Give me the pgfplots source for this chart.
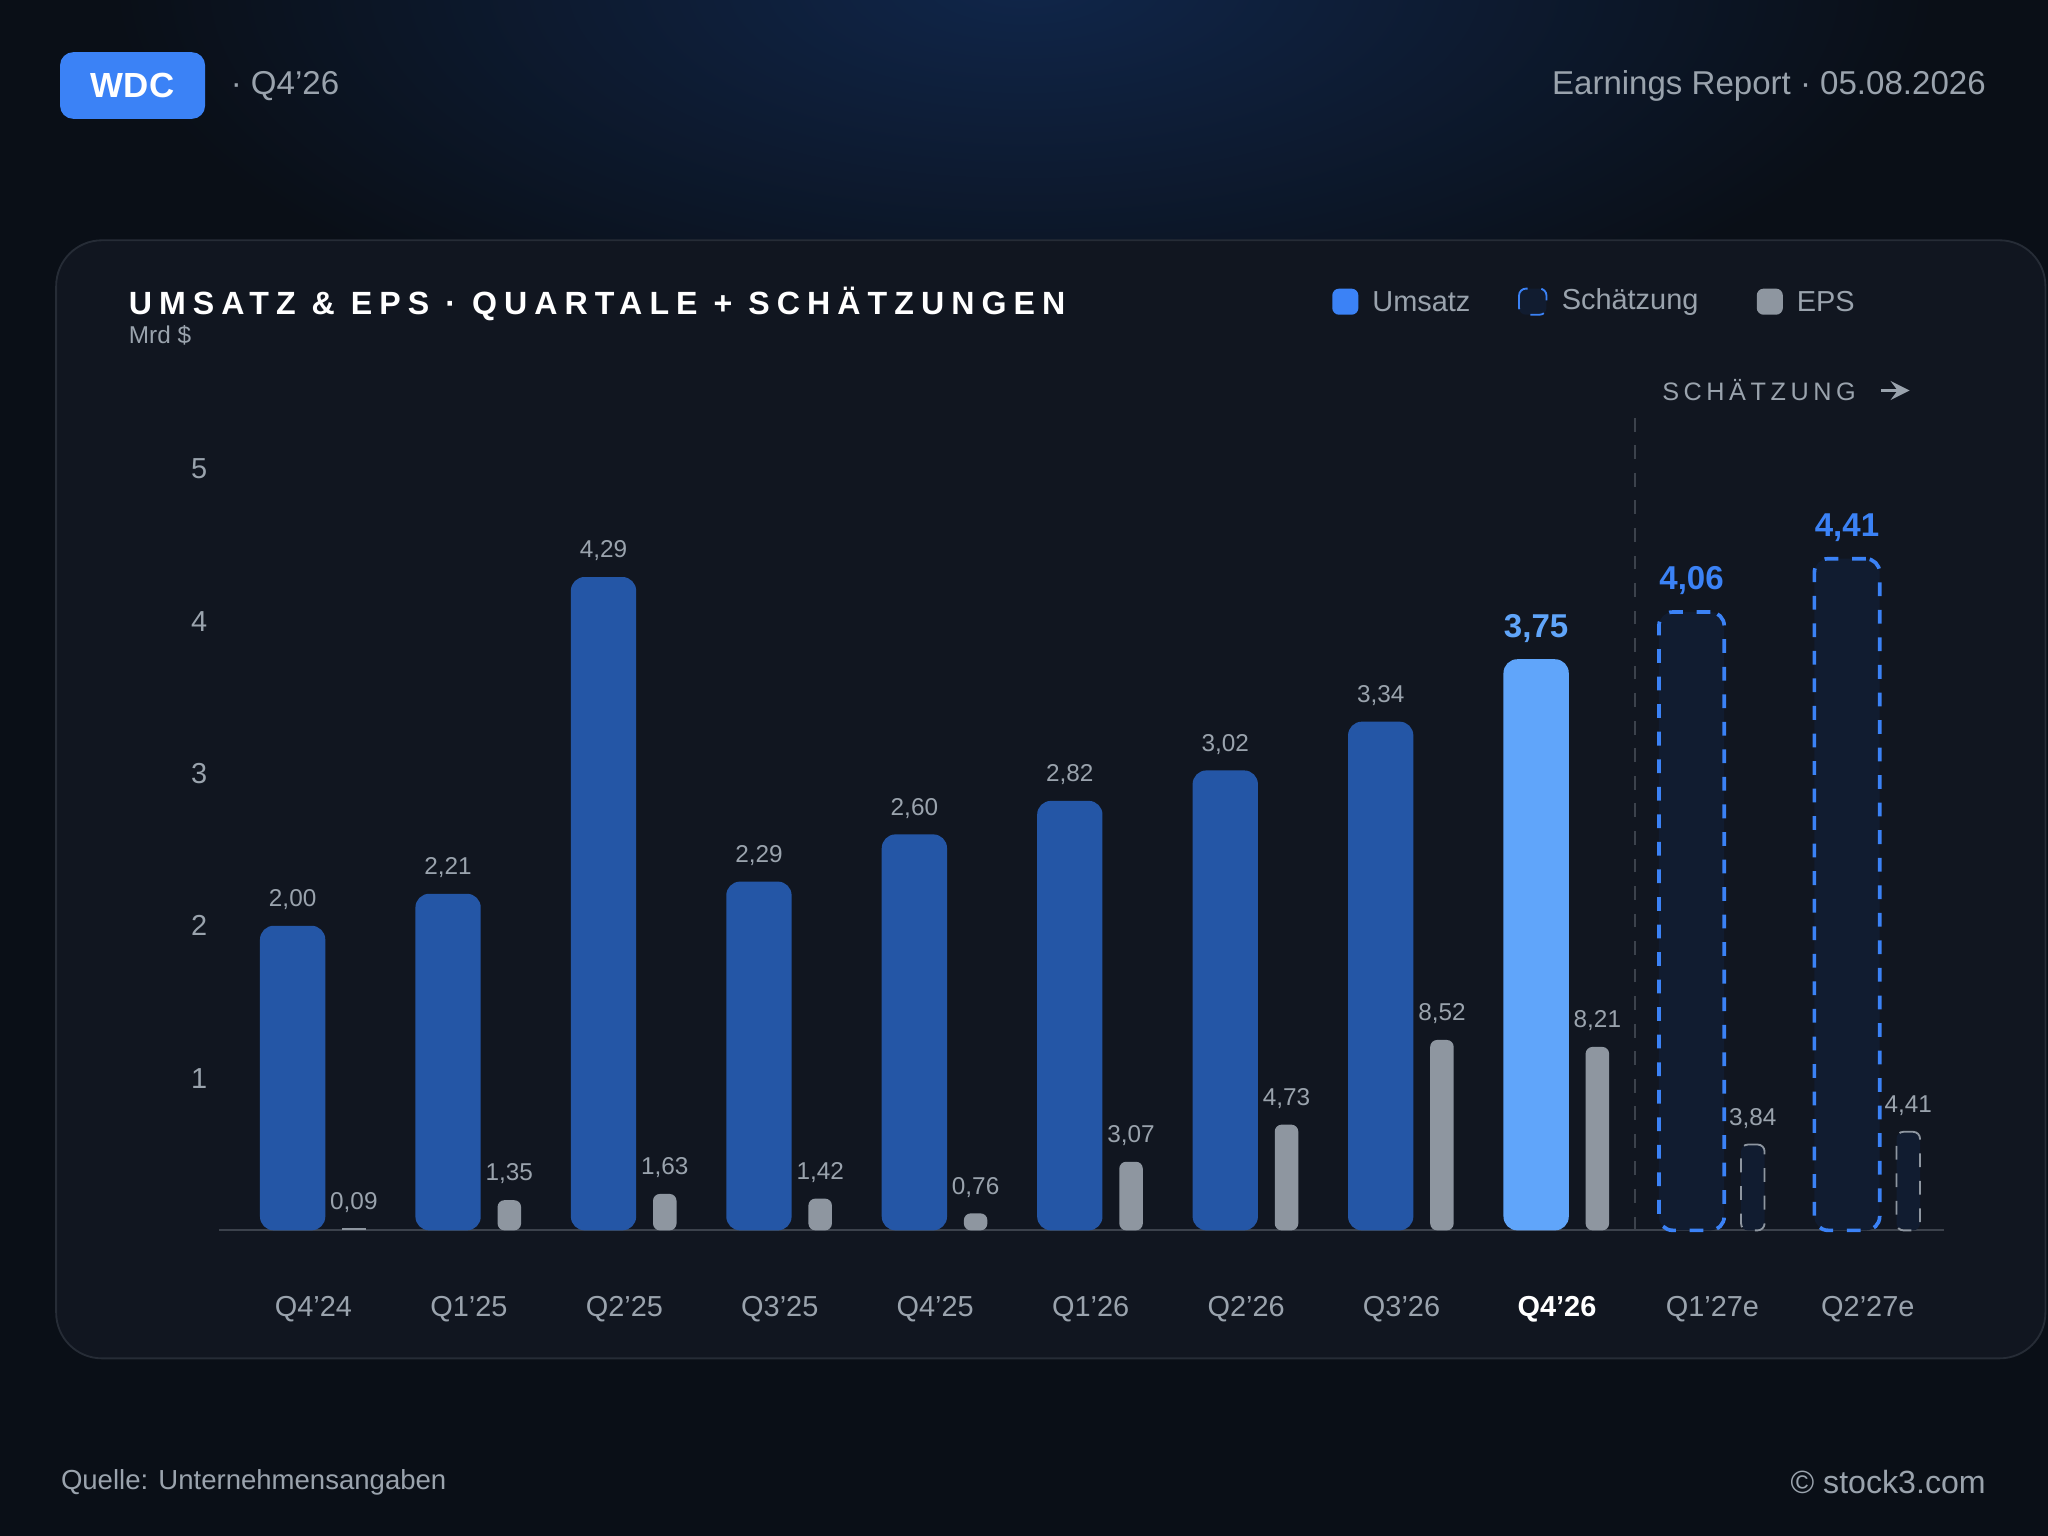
\documentclass[border=0pt]{standalone}
\usepackage{pgfplots}
\pgfplotsset{compat=1.18}
\usepackage{fontspec}
\setmainfont{Liberation Sans}
\definecolor{bg}{HTML}{0A0F17}
\definecolor{glow}{HTML}{10264A}
\definecolor{panel}{HTML}{111620}
\definecolor{panelb}{HTML}{262C36}
\definecolor{rev}{HTML}{2456A6}
\definecolor{revhi}{HTML}{60A5FA}
\definecolor{est}{HTML}{3B82F6}
\definecolor{estfill}{HTML}{111C30}
\definecolor{eps}{HTML}{8E96A0}
\definecolor{txt}{HTML}{9AA3AD}
\definecolor{gridc}{HTML}{252A33}
\definecolor{basec}{HTML}{3C424C}
\newcommand{\fs}[1]{\fontsize{#1}{#1}\selectfont}
\begin{document}
\begin{tikzpicture}
\fill[bg] (0,0) rectangle (15.68,11.76);
\begin{scope}
\clip (0,0) rectangle (15.68,11.76);
\shade[inner color=glow, outer color=bg] (7.84,11.9) ellipse (7 and 3);
\end{scope}
\fill[panel, draw=panelb, rounded corners=0.35cm] (0.43,9.92) rectangle (15.66,1.36);
% header
\fill[est, rounded corners=0.1cm] (0.46,11.36) rectangle (1.57,10.85);
\node[white,font=\fs{7.6}\bfseries] at (1.015,11.105) {WDC};
\node[txt,anchor=west,inner sep=0pt,font=\fs{7.2}] at (1.76,11.10) {· Q4'26};
\node[txt,anchor=east,inner sep=0pt,font=\fs{7.2}] at (15.21,11.10) {Earnings Report · 05.08.2026};
% title
\node[white,anchor=west,inner sep=0pt,font=\fs{7}\bfseries\addfontfeature{LetterSpace=22}] at (0.98,9.43) {UMSATZ \& EPS · QUARTALE + SCHÄTZUNGEN};
\node[txt,anchor=west,inner sep=0pt,font=\fs{5.3}] at (0.98,9.19) {Mrd \$};
% legend
\fill[est,rounded corners=1.5pt] (10.20,9.55) rectangle (10.40,9.35);
\node[txt,anchor=west,inner sep=0pt,font=\fs{6.3}] at (10.50,9.45) {Umsatz};
\draw[est,dashed,rounded corners=1.5pt,fill=estfill] (11.63,9.55) rectangle (11.84,9.35);
\node[txt,anchor=west,inner sep=0pt,font=\fs{6.3}] at (11.95,9.45) {Schätzung};
\fill[eps,rounded corners=1.5pt] (13.45,9.55) rectangle (13.65,9.35);
\node[txt,anchor=west,inner sep=0pt,font=\fs{6.3}] at (13.75,9.45) {EPS};
\node[txt,anchor=west,inner sep=0pt,font=\fs{5.5}\addfontfeature{LetterSpace=18}] at (12.72,8.77) {SCHÄTZUNG};
\draw[txt,thick,-stealth] (14.40,8.77) -- (14.62,8.77);
% footer
\node[txt,anchor=west,inner sep=0pt,font=\fs{6}] at (0.46,0.41) {Quelle: Unternehmensangaben};
\node[txt,anchor=east,inner sep=0pt,font=\fs{7}] at (15.21,0.41) {© stock3.com};
\pgfplotsset{every axis/.append style={
  scale only axis, width=13.2cm, height=5.83cm, at={(1.68cm,2.34cm)}, anchor=south west,
  xmin=-0.605, xmax=10.487, ymin=0, clip=false,
  ybar, bar shift=0pt,
  /pgf/number format/assume math mode=true,
  nodes near coords={\pgfmathprintnumber[fixed,fixed zerofill,precision=2,use comma,assume math mode=true]{\pgfplotspointmeta}},
  every node near coord/.append style={txt,font=\fs{5.3}},
}}
\begin{axis}[ymax=5,
  axis x line*=bottom, axis y line=none,
  axis line style={draw=basec},
  ytick={1,2,3,4,5}, ymajorgrids, grid style={gridc},
  xtick={0,...,10}, xticklabels={Q4'24,Q1'25,Q2'25,Q3'25,Q4'25,Q1'26,Q2'26,Q3'26,{\textbf{\color{white}Q4'26}},Q1'27e,Q2'27e},
  major tick length=0pt, yticklabels={},
  xticklabel style={txt,font=\fs{6.3},yshift=-0.38cm},
]
\addplot[fill=rev,draw=none,bar width=0.5cm,rounded corners=3pt] coordinates {(-0.134,2.00)(0.866,2.21)(1.866,4.29)(2.866,2.29)(3.866,2.60)(4.866,2.82)(5.866,3.02)(6.866,3.34)};
\addplot[fill=revhi,draw=none,bar width=0.5cm,rounded corners=3pt,
  every node near coord/.append style={revhi,font=\fs{7.2}\bfseries}] coordinates {(7.866,3.75)};
\addplot[fill=estfill,draw=est,dashed,thick,bar width=0.5cm,rounded corners=3pt,
  every node near coord/.append style={est,font=\fs{7.2}\bfseries,solid}] coordinates {(8.866,4.06)(9.866,4.41)};
\draw[basec,dashed,thin] (axis cs:8.5,0) -- (axis cs:8.5,5.35);
\pgfplotsinvokeforeach{1,...,5}{\node[txt,anchor=east,font=\fs{6.3}] at (axis cs:-0.605,#1) [xshift=0.03cm] {#1};}
\end{axis}
\begin{axis}[ymax=34.08, hide axis]
\addplot[fill=eps,draw=none,bar width=0.18cm] coordinates {(0.26,0.09)};
\addplot[fill=eps,draw=none,bar width=0.18cm,rounded corners=1.5pt] coordinates {(1.26,1.35)(2.26,1.63)(3.26,1.42)(4.26,0.76)(5.26,3.07)(6.26,4.73)(7.26,8.52)(8.26,8.21)};
\addplot[fill=estfill,draw=eps,dashed,thin,bar width=0.18cm,rounded corners=1.5pt,
  every node near coord/.append style={solid}] coordinates {(9.26,3.84)(10.26,4.41)};
\end{axis}
\end{tikzpicture}
\end{document}
